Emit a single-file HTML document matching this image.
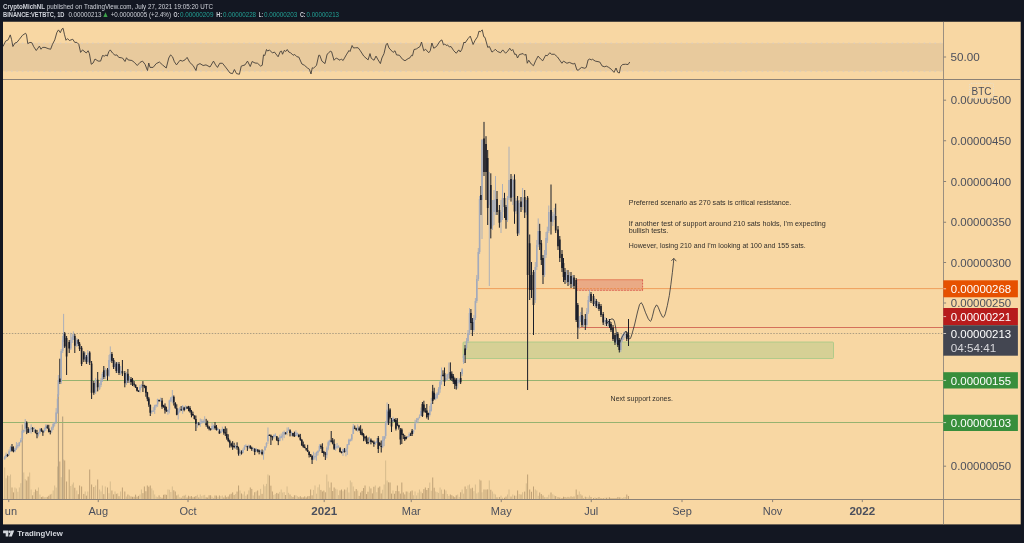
<!DOCTYPE html><html><head><meta charset="utf-8"><title>VETBTC chart</title><style>html,body{margin:0;padding:0;background:#131722;width:1024px;height:543px;overflow:hidden}</style></head><body><svg width="1024" height="543" viewBox="0 0 1024 543" style="display:block;will-change:transform;font-family:'Liberation Sans',sans-serif">
<defs><clipPath id="cc"><rect x="3" y="21.75" width="1017.7" height="502.65"/></clipPath><clipPath id="cp"><rect x="3" y="21.75" width="940.5" height="477.75"/></clipPath></defs>
<rect width="1024" height="543" fill="#131722"/>
<rect x="3" y="21.75" width="1017.7" height="502.65" fill="#f8d7a3"/>
<g clip-path="url(#cc)">
<rect x="3" y="43.2" width="940.5" height="28" fill="#e8ca9d"/>
<path d="M3 43.2H943.5M3 71.2H943.5" stroke="#d9cdc0" stroke-width="1" stroke-dasharray="1.7 3.7" stroke-dashoffset="2.8" fill="none"/>
<path d="M3 46.5 L5.6 41.1 L8.1 39.9 L10.25 34.9 L11.5 39.25 L12.9 46.5 L15 43 L16.9 42.4 L19.4 39.25 L22.5 35.25 L25.6 33.25 L26.5 34.9 L27.75 43.6 L30 42.4 L31.9 42.75 L33.75 46.75 L36.25 50.5 L39.4 46.1 L41 49.25 L42.5 47.4 L45 47.4 L48.1 48.6 L50.6 49.25 L52.5 44.25 L54.75 39.9 L56.9 32.4 L58.5 29.9 L60.3 32.7 L61.9 29 L63.1 28.25 L64.4 34.25 L66 40.25 L67.5 38.6 L69.4 40.5 L72.75 39.25 L74.75 42.4 L76.9 42.4 L78.75 44.25 L80.6 52.4 L82.5 49.9 L86.25 53 L88.1 50.75 L89.4 53.6 L91.25 64.25 L93.1 63 L95 59 L98.1 61.1 L100.6 61.1 L102.5 55.5 L104.4 56.1 L106 54.9 L107.25 56.1 L108.75 51.75 L110.25 49.9 L112.5 53 L115 55.25 L116.9 54.9 L118.75 57.4 L121.25 57.75 L122.5 58 L125 61.5 L126.5 57.75 L128.1 59.9 L131.9 60.5 L134.4 62.4 L137.25 65.5 L140 62.4 L142.5 61.1 L145 64.25 L147.5 70.5 L148.75 63 L150 67.4 L153.1 67.4 L156.25 63.6 L159.4 62 L162.5 64.9 L166.25 68 L168.75 58 L170.6 54.9 L172.5 56.75 L174.4 61.75 L176.5 64.9 L180 60.25 L182.5 61.1 L185 59.9 L187.1 57.4 L189.75 62.4 L193.1 65.5 L196 70.5 L197.25 64.9 L200 63.6 L203.1 65.5 L206 64.9 L210 67 L213.5 61.1 L215.6 64.9 L217.5 67.4 L219.75 63.25 L222.5 63.25 L226.25 68 L230 73 L232.5 73.6 L234.4 69.5 L236.5 73.6 L239.4 74.25 L241.25 66.1 L245 64.9 L247.5 61.1 L250.25 66.5 L252.1 61.5 L255 63 L257.5 63.25 L260.6 66.1 L262.25 65.25 L263.5 54.9 L264.75 55.5 L266.5 49.5 L267.75 51.1 L269.4 49.9 L272.5 53 L274.4 52 L278.1 56.75 L280.25 51.5 L281.5 51.1 L282.5 54.25 L284.4 50.25 L285.6 51.5 L287.25 49.5 L288.75 52 L290.6 52.75 L293.1 55.25 L294.75 54.5 L296.9 56.75 L298.75 57 L301.9 64 L304.4 65.25 L307.5 68 L309.4 69.25 L311 74 L312.25 67.75 L313.5 68.25 L316.5 65.25 L318.75 55.25 L319.75 55.25 L321.9 61.1 L325 63.6 L327.1 54.25 L328.1 53.6 L330.25 51.1 L331.6 51.75 L334 60.25 L336.25 58 L340 60.25 L341.25 59 L343.1 60.5 L346.25 54.9 L349 50.5 L350 51.5 L352.1 45.5 L353.5 48 L355.6 47.75 L358.1 47.75 L360 50.25 L363.75 56.1 L368.1 59.9 L370 53.6 L371.25 58.25 L374 60.25 L376 56.1 L378.1 59.9 L380.4 63.6 L381.9 58 L384 53.6 L386 44.9 L387.25 43.25 L389 48 L393.1 52.4 L395 50.75 L396.5 54.9 L399.4 55.25 L402.5 59.25 L405 60.75 L408.1 58.6 L410 57.75 L411.5 55.25 L412.5 55.75 L414 49.5 L416.25 49 L420 46.5 L421.5 42 L423.75 50.75 L425.6 49.25 L428.75 52.75 L430.25 50.75 L431.9 43 L433.75 48.25 L436.5 46.5 L440 41.1 L441.9 39.9 L443.5 44.9 L444.75 44 L446.25 45.5 L447.5 44.9 L449.4 47 L451 46.5 L453.75 50.75 L456.25 53.25 L458.75 49.9 L460.25 52 L461.9 49.25 L464 42 L465 43 L468.1 38.6 L470.25 36.1 L473.1 44.5 L475 40.5 L477.5 36.75 L479 31.1 L480.25 31.75 L482.25 29.9 L483.75 36.75 L485 37.4 L487.75 47.4 L489.4 46.5 L491.9 52 L493.1 51.5 L495.25 49.25 L497.5 51.5 L500.6 52.75 L502.75 49.9 L505.6 53.25 L507.75 51.1 L509.75 48.25 L511.5 50.75 L512.75 49.5 L514.75 54.5 L516 54 L517.5 58 L519.4 54.5 L523.1 53.6 L524.75 55.25 L526 54.25 L527.25 63.25 L528.75 60.25 L531.25 64 L533.5 65.75 L535.6 60.75 L538.1 56.1 L540.6 59 L542.75 60.75 L545.6 55.25 L547.25 55.75 L549.75 52.75 L551.5 54.25 L554.4 54.25 L557.5 57 L561.9 63.25 L563.5 61.1 L566.9 63.25 L569.4 62.4 L573.1 64 L574.75 63.25 L576.9 69.9 L578.1 70.25 L581.5 67.4 L584.75 68.25 L586.25 67.4 L588.1 59.9 L589.75 59 L591.25 59.9 L592.5 59.25 L595.25 61.1 L599.75 62 L602.25 66.1 L604.75 66.75 L606.25 66.1 L608.75 67.4 L611.25 69.25 L614 72.4 L616 68 L617.75 72.4 L619.4 73 L620.6 66.75 L622.5 64.5 L625.6 64.25 L628.1 64.5 L629.75 62" stroke="#45403a" stroke-width="0.9" fill="none" stroke-linejoin="round"/>
<path d="M4.65 499.5V467.5M6.12 499.5V478.35M9.06 499.5V476.08M10.53 499.5V474.5M14.94 499.5V487.5M16.42 499.5V488.54M17.89 499.5V491.8M19.36 499.5V487.5M20.83 499.5V483.23M23.77 499.5V472.5M25.24 499.5V479.23M29.65 499.5V472.5M31.13 499.5V489.5M34.07 499.5V492.13M38.48 499.5V487.5M39.95 499.5V494.5M44.36 499.5V497.29M45.84 499.5V497.09M51.72 499.5V493.86M53.19 499.5V490.5M54.66 499.5V485.5M56.13 499.5V487.56M57.6 499.5V466.5M61.2 499.5V477.15M63.6 499.5V459.5M70.8 499.5V485.99M72.3 499.5V484.5M73.4 499.5V482.5M76.8 499.5V490.5M85.2 499.5V491.5M87.8 499.5V491.5M95.6 499.5V485.5M99.6 499.5V489.5M101 499.5V491.5M102.4 499.5V485.5M105.3 499.5V486.5M109 499.5V493.26M110.3 499.5V481.5M115 499.5V491.5M117.7 499.5V493.38M120.6 499.5V491.5M126.4 499.5V496.49M129.5 499.5V495.49M139.98 499.5V494.5M141.45 499.5V489.5M151.75 499.5V488.44M153.22 499.5V490.5M154.69 499.5V494.5M156.16 499.5V496.57M157.63 499.5V497.11M160.57 499.5V497.09M167.93 499.5V489.5M169.4 499.5V489.74M170.87 499.5V492.04M172.34 499.5V486.5M178.23 499.5V494.5M179.7 499.5V497.22M182.64 499.5V495.96M185.58 499.5V494.79M197.35 499.5V494.74M200.29 499.5V494.5M201.76 499.5V496.23M203.23 499.5V495.32M204.7 499.5V494.91M212.06 499.5V496.71M213.53 499.5V497.92M217.94 499.5V496.97M220.88 499.5V496.19M222.36 499.5V495.52M235.59 499.5V493.95M240.01 499.5V490.5M242.95 499.5V494.46M244.42 499.5V491.5M245.89 499.5V495.75M248.83 499.5V490.41M253.25 499.5V495.47M256.19 499.5V491.48M260.6 499.5V488.88M263.54 499.5V484.5M265.01 499.5V486.26M266.49 499.5V483.86M267.96 499.5V474.5M273.84 499.5V494.93M275.31 499.5V494.1M279.72 499.5V491.95M281.2 499.5V489.5M282.67 499.5V492.56M284.14 499.5V492.15M287.08 499.5V486.5M288.55 499.5V492.83M291.49 499.5V496.16M295.91 499.5V495.22M297.38 499.5V496.26M313.56 499.5V489.91M315.03 499.5V485.5M316.5 499.5V493.7M317.97 499.5V487.31M319.44 499.5V484.5M326.8 499.5V474.5M328.27 499.5V481.5M329.74 499.5V487.55M335.62 499.5V488.78M337.09 499.5V489.5M338.56 499.5V495.11M342.98 499.5V491.24M345.92 499.5V489.74M347.39 499.5V487.5M348.86 499.5V492.49M350.33 499.5V480.5M351.8 499.5V482.31M353.27 499.5V486.5M357.69 499.5V490.7M369.46 499.5V486.5M375.34 499.5V485.5M376.81 499.5V492.2M382.69 499.5V489.79M384.17 499.5V484.5M385.64 499.5V460.5M387.11 499.5V480.5M392.99 499.5V490.5M407.7 499.5V491.58M409.17 499.5V492.78M413.59 499.5V495.3M415.06 499.5V491.47M416.53 499.5V495.45M418 499.5V492.74M419.47 499.5V489.5M420.94 499.5V491.62M429.77 499.5V482.62M431.24 499.5V490.83M435.65 499.5V491.5M437.12 499.5V492.14M438.59 499.5V492.91M440.06 499.5V487.5M441.53 499.5V489.61M445.95 499.5V490.5M447.42 499.5V494M448.89 499.5V495.93M457.72 499.5V494.5M459.19 499.5V496.95M462.13 499.5V489.5M463.6 499.5V493.67M466.5 499.5V489.09M468 499.5V485.45M469.5 499.5V484.5M473.9 499.5V491.2M475.4 499.5V484.5M476.8 499.5V493.44M478.3 499.5V492.39M479.6 499.5V479.5M482 499.5V492.35M489.3 499.5V480.5M492.5 499.5V491.5M494 499.5V493.72M495.5 499.5V494.5M501 499.5V495.63M502.5 499.5V497.68M507.5 499.5V494.5M509 499.5V489.5M512.8 499.5V494.5M516 499.5V495.7M519.2 499.5V494.1M522.6 499.5V492.23M526.3 499.5V483.4M535.3 499.5V489.5M536.8 499.5V490.5M538.2 499.5V495.81M544.5 499.5V497.18M546 499.5V497.21M547.3 499.5V497.19M548.8 499.5V494.78M552.8 499.5V494.32M554.3 499.5V495.5M566.5 499.5V497.52M569.5 499.5V497.41M572.5 499.5V496.92M579.3 499.5V491.5M580.7 499.5V494.13M583.5 499.5V497.99M586.8 499.5V497.04M588.3 499.5V497.48M589.5 499.5V495.5M595 499.5V497.36M597.8 499.5V497.73M605 499.5V497.64M608 499.5V497.58M616.5 499.5V498M620.8 499.5V497.46M622.3 499.5V498M623.8 499.5V497.25M625.2 499.5V497" stroke="#d3b88a" stroke-width="0.9" fill="none"/>
<path d="M7.59 499.5V475.5M12 499.5V487.5M13.47 499.5V492.4M26.71 499.5V480.5M28.18 499.5V476.6M32.6 499.5V495.31M35.54 499.5V489.5M37.01 499.5V490.96M41.42 499.5V497.04M42.89 499.5V496.55M47.31 499.5V496.92M48.78 499.5V495.8M50.25 499.5V494.5M59.8 499.5V461.5M64.7 499.5V460.5M66.6 499.5V481.5M69.2 499.5V469.5M74.8 499.5V487.74M78.3 499.5V494.25M79.6 499.5V485.5M81.6 499.5V486.5M83.8 499.5V493.97M86.4 499.5V495.64M89.7 499.5V469.5M91.6 499.5V484.5M93.8 499.5V487.02M97.7 499.5V479.5M103.8 499.5V494.18M107.5 499.5V487.5M111.9 499.5V490.5M113.6 499.5V494.36M116.3 499.5V493.84M119 499.5V496.23M122.4 499.5V487.5M124.8 499.5V491.5M127.9 499.5V494.5M131 499.5V496.42M132.5 499.5V496.83M134.1 499.5V496.75M135.57 499.5V494.65M137.04 499.5V496.73M138.51 499.5V495.91M142.92 499.5V493.14M144.39 499.5V486.5M145.86 499.5V491.25M147.33 499.5V485.5M148.81 499.5V486.74M150.28 499.5V485.5M159.1 499.5V495.38M162.04 499.5V497.73M163.52 499.5V494.82M164.99 499.5V494.5M166.46 499.5V494.85M173.81 499.5V490.28M175.28 499.5V491.5M176.75 499.5V495.44M181.17 499.5V497.7M184.11 499.5V495.67M187.05 499.5V497.46M188.52 499.5V495.73M189.99 499.5V496.54M191.46 499.5V496.11M192.94 499.5V497.28M194.41 499.5V496.83M195.88 499.5V496.06M198.82 499.5V497.4M206.17 499.5V497.31M207.65 499.5V497.56M209.12 499.5V495.27M210.59 499.5V495.27M215 499.5V495.5M216.47 499.5V495.6M219.41 499.5V495.47M223.83 499.5V497.42M225.3 499.5V495.47M226.77 499.5V497.13M228.24 499.5V496.51M229.71 499.5V494.5M231.18 499.5V493.8M232.65 499.5V492.4M234.12 499.5V494.98M237.07 499.5V491.6M238.54 499.5V485.5M241.48 499.5V493.52M247.36 499.5V494.45M250.3 499.5V487.5M251.78 499.5V488.96M254.72 499.5V492.26M257.66 499.5V490.5M259.13 499.5V495.56M262.07 499.5V493.86M269.43 499.5V475.5M270.9 499.5V485.68M272.37 499.5V491.5M276.78 499.5V492.94M278.25 499.5V493.64M285.61 499.5V495.01M290.02 499.5V494.5M292.96 499.5V496.99M294.43 499.5V495.27M298.85 499.5V497.17M300.32 499.5V496.21M301.79 499.5V497.4M303.26 499.5V497.33M304.73 499.5V496.35M306.2 499.5V497.45M307.67 499.5V496.31M309.14 499.5V496.09M310.62 499.5V489.5M312.09 499.5V495.33M320.91 499.5V489.94M322.38 499.5V491.5M323.85 499.5V490.55M325.33 499.5V492.3M331.21 499.5V482.5M332.68 499.5V491.04M334.15 499.5V487.5M340.04 499.5V490.43M341.51 499.5V489.53M344.45 499.5V489.5M354.75 499.5V491.29M356.22 499.5V489.02M359.16 499.5V495.91M360.63 499.5V492.5M362.1 499.5V490.93M363.57 499.5V488.04M365.04 499.5V485.5M366.51 499.5V494.12M367.98 499.5V491.75M370.93 499.5V488.43M372.4 499.5V493.43M373.87 499.5V486.77M378.28 499.5V487.68M379.75 499.5V486.5M381.22 499.5V493.47M388.58 499.5V482.31M390.05 499.5V482.5M391.52 499.5V493.61M394.46 499.5V493.79M395.93 499.5V491.06M397.4 499.5V485.5M398.88 499.5V491.24M400.35 499.5V493.63M401.82 499.5V482.5M403.29 499.5V492.49M404.76 499.5V494.41M406.23 499.5V491.5M410.64 499.5V491.38M412.11 499.5V490.5M422.41 499.5V493.19M423.88 499.5V489.14M425.35 499.5V487.5M426.82 499.5V489.99M428.3 499.5V487.99M432.71 499.5V477.5M434.18 499.5V487.73M443.01 499.5V493.86M444.48 499.5V489.5M450.36 499.5V494.5M451.83 499.5V495.26M453.3 499.5V496.31M454.77 499.5V497.18M456.25 499.5V495.33M460.66 499.5V492.3M465.1 499.5V486.5M470.9 499.5V488.54M472.4 499.5V487.78M480.9 499.5V480.5M484 499.5V489.5M486 499.5V489.54M487.7 499.5V489.37M490.8 499.5V489.78M497 499.5V497.32M499.4 499.5V497.01M504.5 499.5V497.74M506 499.5V496.6M511 499.5V496.57M514.5 499.5V495.62M517.6 499.5V490.5M521 499.5V494.5M524.7 499.5V491.59M527.6 499.5V474.5M529.7 499.5V489.5M531.5 499.5V491.78M533.5 499.5V486.5M539.7 499.5V492.5M541.3 499.5V494.03M543 499.5V495.5M551 499.5V492.5M555.7 499.5V496.1M558 499.5V497.15M559.8 499.5V497.54M562 499.5V498M563.5 499.5V496.75M565 499.5V497M568 499.5V496.92M571 499.5V496.43M574 499.5V496.5M576.2 499.5V489.5M577.8 499.5V494.79M582 499.5V495.5M585.3 499.5V496.72M591 499.5V497M593.5 499.5V498M596.3 499.5V498M599 499.5V497.1M601 499.5V498M603.2 499.5V498M606.5 499.5V497.8M609.5 499.5V497.3M611 499.5V498M613 499.5V498M615 499.5V498M617.8 499.5V497.18M619.3 499.5V497.35M626.8 499.5V494.5M628.5 499.5V496" stroke="#b89b70" stroke-width="0.9" fill="none"/>
<path d="M22.3 499.5V424.5M58.4 499.5V383.5M62.7 499.5V416.5" stroke="#9a8970" stroke-width="0.8" fill="none"/>
<path d="M3 333.5H943.5" stroke="#ad9e82" stroke-width="1" stroke-dasharray="1.5 1.44" fill="none"/>
<path d="M3 422.5H943.5" stroke="#96b270" stroke-width="1" fill="none"/>
<path d="M61 380.5H943.5" stroke="#96b270" stroke-width="1" fill="none"/>
<path d="M477.5 288.6H943.5" stroke="#ef9f5c" stroke-width="1" fill="none"/>
<path d="M578.5 327.5H943.5" stroke="#d5705a" stroke-width="1" fill="none"/>
<rect x="463" y="342" width="370.5" height="16.5" rx="1" fill="#d6d095" stroke="#a3c885" stroke-width="0.8"/>
<rect x="576.2" y="279.3" width="66.8" height="11.4" fill="#eaaa85"/>
<path d="M576.2 279.8H643" stroke="#e6845e" stroke-width="1" fill="none"/>
<path d="M576.2 290.3H643M642.6 279.8V290.3M576.7 279.8V290.3" stroke="#d9584c" stroke-width="0.9" stroke-dasharray="1.6 1.4" fill="none"/>
<path d="M576.3 288.6H643" stroke="#ec8a4c" stroke-width="0.9" stroke-dasharray="2.2 1.2" fill="none"/>
<path d="M4.65 456.07V459.69M6.12 452.64V457.79M9.06 449.42V455.68M10.53 445.87V451.81M14.94 447.79V452.12M16.42 442.06V450.01M17.89 443.04V448.16M19.36 441.93V446.42M20.83 438.2V442.9M22.3 429.67V440.4M23.77 429.45V432.94M25.24 419V431.64M29.65 428.68V432.53M31.13 424.36V433.62M34.07 427.08V431.8M38.48 431.95V436.51M39.95 428.29V433.76M44.36 427.53V432.48M45.84 424.22V430.85M51.72 426.63V432.87M53.19 422.12V429.95M54.66 421.86V426.49M56.13 408.12V423.85M57.6 394.28V413.72M58.4 375V397M61.2 349V384M62.7 336V353M63.6 313.9V342M70.8 332.8V350M72.3 334V343M73.4 331.4V340M76.8 338V347M85.2 352V361M87.8 350V364M95.6 378V394M99.6 383V390M101 378V387M102.4 372V382M105.3 368V379M109 355V377M110.3 346.4V362M115 361V369M117.7 362V373M120.6 366V375M126.4 372V385M129.5 376V383M139.98 384.83V392.62M141.45 384.09V388.06M151.75 410.55V413.99M153.22 407.12V411.96M154.69 404.8V413.94M156.16 404.44V407.55M157.63 398.67V406.89M160.57 397.61V401.76M167.93 408.95V414.67M169.4 399.65V413.34M170.87 397.26V402.07M172.34 390V403.43M178.23 408.42V419.5M179.7 407.13V412.73M182.64 405.16V413.77M185.58 405.35V409.58M197.35 422.28V427.78M200.29 418.54V426.82M201.76 419.23V423.7M203.23 419.42V423.17M204.7 416.23V423.34M212.06 422.7V430.1M213.53 424.73V429.78M217.94 428.25V431.21M220.88 429.36V433.09M222.36 426.67V431.77M235.59 444.8V449.01M240.01 449.81V456M242.95 448.54V453.33M244.42 445.16V449.8M245.89 444.24V447.11M248.83 444.58V449.02M253.25 447.73V451.36M256.19 447.86V452.12M260.6 450.25V453.38M263.54 450.32V459.68M265.01 446.08V450.4M266.49 442.17V447.67M267.96 427.5V443.81M273.84 434.27V438.92M275.31 433.3V437.25M279.72 434.66V441.36M281.2 433.5V438.35M282.67 431.79V440.43M284.14 430.59V438.11M287.08 427.5V435.29M288.55 427.23V430.83M291.49 431.64V436.18M295.91 430.27V435.98M297.38 432.55V436.54M313.56 451.72V460.15M315.03 453.05V459.86M316.5 451.63V460.67M317.97 450.71V455.4M319.44 444.21V451.47M326.8 446.51V458.19M328.27 440.68V450.33M329.74 439.72V445.53M335.62 444.08V450.74M337.09 442.97V448.67M338.56 445.28V447.76M342.98 448.75V455.93M345.92 447.8V456.35M347.39 444.29V454.87M348.86 438.7V445.15M350.33 438.64V441.59M351.8 434.14V441.13M353.27 424V434.03M357.69 424.48V431.87M369.46 436.65V442.47M375.34 441.57V445.02M376.81 438.07V443.04M382.69 436.16V448.06M384.17 436.09V446.18M385.64 421.05V438.68M387.11 402.5V425.06M392.99 416.65V421.76M407.7 435.98V437.76M409.17 432.38V437.05M413.59 429.96V433.8M415.06 419.78V429.97M416.53 418.09V423.28M418 417.67V423.19M419.47 414.46V418.43M420.94 407.54V416.2M429.77 405.78V416.47M431.24 397.91V411.6M435.65 393.74V400.23M437.12 392.09V398.94M438.59 387.12V394.81M440.06 380.47V392.75M441.53 367.5V384.65M445.95 374.42V380.47M447.42 373.71V380.39M448.89 362.5V378.95M457.72 377.87V388.46M459.19 378.81V383.67M462.13 368.11V376.09M463.6 354V364M466.5 338V350M468 330V343M469.5 308V335M473.9 315V332M475.4 298V320M476.8 275V303M478.3 248V281M479.6 196V254M482 139.5V239M489.3 172V286M492.5 200V230M494 190V225M495.5 176V215M501 200V233M502.5 184V220M507.5 196V222M509 146.7V200M512.8 176V205M516 198V214M519.2 200V235M522.6 188V210M526.3 205V215M535.3 262V303M536.8 240V270M538.2 218.4V247M544.5 250V277M546 232V258M547.3 226.7V243M548.8 205.5V233M552.8 212V226M554.3 208V220M566.5 270V283M569.5 272V285M572.5 275V287M579.3 316V329M580.7 312V322M583.5 316V327M586.8 308V327M588.3 296V314M589.5 290V302M595 298V307M597.8 301V309M605 317V326M608 319V327M616.5 332V344M620.8 338V352M622.3 334V342M623.8 332V340M625.2 331V338" stroke="#a3aabb" stroke-width="0.9" fill="none"/>
<path d="M7.59 453.91V456.81M12 444.03V451.62M13.47 446.35V452.34M26.71 421.34V434.12M28.18 427.16V432.93M32.6 427.04V432.02M35.54 429.48V433.42M37.01 429.92V438.26M41.42 428.18V431.83M42.89 430.09V435.89M47.31 424.81V428.85M48.78 424.79V432.43M50.25 430.43V434.41M59.8 358.7V384M64.7 332V348M66.6 336V375M69.2 340V353M74.8 334V353M78.3 339V346M79.6 342V351M81.6 346V366M83.8 351V362M86.4 355V364M89.7 351.2V365M91.6 361V399M93.8 381V394.8M97.7 372V391.4M103.8 366V379M107.5 368V380.5M111.9 352V363M113.6 358V369M116.3 362V373M119 362V375M122.4 360V376M124.8 371V387.3M127.9 369V383M131 377V385M132.5 378V386M134.1 381.02V386.59M135.57 384.47V387.92M137.04 386.97V391.43M138.51 390.45V391.98M142.92 381.1V391.99M144.39 384.82V388.17M145.86 385.73V396.75M147.33 391.87V401.23M148.81 396.92V406.84M150.28 404.43V416M159.1 399.61V401.54M162.04 397.93V408.85M163.52 404.84V407.69M164.99 403.4V413.57M166.46 406.72V411.78M173.81 395.44V405.55M175.28 402.18V408.83M176.75 404.29V415.29M181.17 406.04V410.95M184.11 406.81V411.28M187.05 406.17V408.96M188.52 405.85V411.29M189.99 406.07V412.73M191.46 409.93V417.34M192.94 411.69V415.73M194.41 415.44V419.48M195.88 415.56V431M198.82 422.01V425.37M206.17 418.86V426.7M207.65 420.62V428.68M209.12 425.93V430.39M210.59 428.43V430.54M215 422.07V429.48M216.47 425.01V430.54M219.41 429.32V433.8M223.83 428.81V434.69M225.3 426.37V436.01M226.77 428.34V439.73M228.24 434.25V442.05M229.71 439.64V447.61M231.18 442.66V447.36M232.65 441.16V449.87M234.12 442.78V448.31M237.07 442.32V449.73M238.54 446.65V455.67M241.48 450.4V454.56M247.36 445.81V450.91M250.3 445.34V449.04M251.78 446.66V450.87M254.72 448.1V455.06M257.66 449.41V452.39M259.13 449.64V454.33M262.07 449.49V455.2M269.43 434.58V436M270.9 434.52V445M272.37 435.99V440.41M276.78 436.21V440.83M278.25 437.58V445.14M285.61 432.12V434.53M290.02 429.25V436.38M292.96 432.93V436.51M294.43 431.67V436.8M298.85 433.91V437.47M300.32 433.88V440.8M301.79 439.09V445.66M303.26 441.54V447.81M304.73 444.31V448.21M306.2 448.02V450.74M307.67 444.8V452.08M309.14 451.38V457.48M310.62 454.13V457.01M312.09 455.36V464M320.91 444.41V449.01M322.38 443.27V452.99M323.85 450.87V456.72M325.33 451.95V460M331.21 431V442.3M332.68 438V444.39M334.15 439.29V449.98M340.04 447.2V452.45M341.51 451.39V453.35M344.45 448.06V452.57M354.75 425.52V429.16M356.22 427.81V430.8M359.16 426.52V430.51M360.63 425.23V434.89M362.1 428.78V435.61M363.57 433.11V441.18M365.04 436.14V440.66M366.51 435.64V443.88M367.98 437.41V444.24M370.93 438.45V444.35M372.4 440.54V442.53M373.87 440.6V446.8M378.28 436V453M379.75 441.97V445.81M381.22 440.51V452.5M388.58 404V425M390.05 408.23V419.41M391.52 418V432M394.46 418.8V421.94M395.93 418V430.5M397.4 418.2V426.16M398.88 424.81V429.63M400.35 428V444.7M401.82 428.24V444M403.29 433.56V439.01M404.76 435V441M406.23 436.62V439.38M410.64 432.77V435.78M412.11 429V436M422.41 402V417M423.88 400.75V412.43M425.35 407.93V412.87M426.82 404V418.5M428.3 412.7V419.84M432.71 384.9V404M434.18 387.75V399.45M443.01 370.3V376.59M444.48 367.5V386M450.36 362.4V380M451.83 371.34V380.92M453.3 374V384M454.77 377.58V389M456.25 378V389.6M460.66 372V384M465.1 345V363M470.9 309V330M472.4 318V336M480.9 186V215M484 121.9V176M486 136.2V200M487.7 150V225M490.8 173.3V238.4M497 191V215M499.4 205V227.7M504.5 192.8V218M506 205V228.7M511 174V201.6M514.5 174.3V223.8M517.6 196V236M521 197V212M524.7 190V218M527.6 196V390M529.7 234.5V300M531.5 262V298M533.5 270V335M539.7 223.8V250M541.3 240V265M543 255V284M551 184.5V234.5M555.7 203.6V233M558 226V250M559.8 236V262M562 250V272M563.5 258V282M565 268V284M568 270V286M571 272V288M574 275V289M576.2 278V322M577.8 303V339M582 307.5V327M585.3 314V330M591 292V303M593.5 294V306M596.3 299V308M599 302V311M601 304V317M603.2 312V325M606.5 318V326M609.5 319V328M611 322V332M613 325V341M615 333V345M617.8 332V347M619.3 338V352.5M626.8 332V341M628.5 319V346" stroke="#1b1e29" stroke-width="1" fill="none"/>
<path d="M4.65 457.2V459.2M6.12 454.69V457.33M9.06 451.37V454.43M10.53 446.88V451.29M14.94 448.47V451.25M16.42 445.84V448.79M17.89 444.97V446.17M19.36 442.22V445.52M20.83 439.92V442.06M22.3 430.91V439.19M23.77 429.97V431.38M25.24 422.25V429.12M29.65 429.3V432.49M31.13 427.62V429.59M34.07 428.25V429.45M38.48 432.42V434.39M39.95 428.7V432.46M44.36 429.63V431.31M45.84 425.61V428.99M51.72 427.54V430.58M53.19 424.06V427.87M54.66 422.84V424.04M56.13 412.56V422.28M57.6 398.68V413.07M58.4 380V395M61.2 351V382M62.7 340V351M63.6 333.5V340M70.8 340V348.5M72.3 337V340M73.4 335.5V337M76.8 340V345.8M85.2 356V359.4M87.8 353V362M95.6 380V392M99.6 385V388.7M101 380.5V385M102.4 374V380.5M105.3 370V377M109 360V375.7M110.3 354V360M115 363.5V366.9M117.7 364V371M120.6 370V373M126.4 374V383M129.5 379V380.5M139.98 386.97V390.46M141.45 385.44V386.86M151.75 410.69V411.89M153.22 410.4V411.6M154.69 405.48V409.98M156.16 404.85V406.05M157.63 399.06V404.26M160.57 399.92V401.12M167.93 409.83V412.1M169.4 400.39V409.75M170.87 397.45V401.59M172.34 396.23V397.85M178.23 411.27V414.04M179.7 408.84V411.61M182.64 406.01V409.69M185.58 407.18V409.41M197.35 422.96V424.16M200.29 422.27V424M201.76 421.26V422.46M203.23 421.12V422.32M204.7 421.42V422.62M212.06 426.07V429.08M213.53 425.41V426.62M217.94 428.78V429.98M220.88 431.18V433.02M222.36 428.91V430.98M235.59 445.19V446.39M240.01 451.37V452.57M242.95 449.94V452.87M244.42 446.9V449.69M245.89 445.62V447.11M248.83 445.51V446.71M253.25 447.87V449.07M256.19 449.01V451.03M260.6 450.57V451.77M263.54 450.79V454.08M265.01 446.56V450.2M266.49 442.93V445.75M267.96 435.43V441.24M273.84 434.94V437.01M275.31 434.8V436M279.72 437.23V440.9M281.2 436.08V437.96M282.67 435.21V436.41M284.14 431.98V435.02M287.08 430.89V432.88M288.55 429.45V430.65M291.49 431.69V432.89M295.91 432.42V435.89M297.38 432.99V434.19M313.56 457.09V459.33M315.03 456.07V457.27M316.5 452.18V456.01M317.97 450.76V452.84M319.44 445.99V450.9M326.8 448.09V455.25M328.27 442.17V448.55M329.74 440.41V442.18M335.62 446.95V448.15M337.09 446.37V447.57M338.56 446.4V447.6M342.98 448.95V452.72M345.92 449.06V451.73M347.39 444.32V448.72M348.86 439.85V444.78M350.33 439.53V441.06M351.8 434.26V439.43M353.27 426.4V434.02M357.69 427.48V428.68M369.46 439.95V442.01M375.34 441.95V443.93M376.81 441.2V442.4M382.69 439.76V446.47M384.17 436.19V440.59M385.64 422.86V436.12M387.11 409.87V423.02M392.99 418.14V421.71M407.7 436V437.2M409.17 434.23V435.66M413.59 430.51V431.81M415.06 423.46V429.33M416.53 420.19V422.93M418 418.37V420.1M419.47 416.68V418M420.94 411.02V415.63M429.77 409.71V414.88M431.24 403.36V410.74M435.65 397.36V398.56M437.12 393.62V397.72M438.59 389.01V394.63M440.06 381.66V389.27M441.53 374.83V381.92M445.95 377.88V380.44M447.42 374.24V377.73M448.89 373.49V374.69M457.72 381.72V382.92M459.19 380.31V381.89M462.13 369.18V373.9M463.6 356V362M466.5 341V348M468 333V341M469.5 313V333M473.9 318V330M475.4 301V318M476.8 279V301M478.3 252V279M479.6 199V252M482 139.5V200M489.3 190V205M492.5 212V226M494 200V212M495.5 199V200M501 212V222M502.5 198V212M507.5 198V220M509 180V198M512.8 180V197M516 201V211M519.2 203V233M522.6 198V207M526.3 200V212M535.3 267V300M536.8 245V267M538.2 231V245M544.5 255V275M546 238V255M547.3 231.6V240.4M548.8 212V231M552.8 216V222M554.3 214V216M566.5 274V280M569.5 277V282M572.5 278V284M579.3 320V327M580.7 316V320M583.5 320V325M586.8 312V325M588.3 300V312M589.5 294V300M595 301V304M597.8 304V306M605 320V322M608 321V324M616.5 336V342M620.8 340V350M622.3 336V340M623.8 335V336M625.2 334V335" stroke="#a3aabb" stroke-width="1.6" fill="none"/>
<path d="M7.59 454.84V456.04M12 446.76V450.68M13.47 449.99V451.19M26.71 422.8V428.14M28.18 428.71V432.87M32.6 428.03V429.23M35.54 429.88V432.75M37.01 432.95V434.18M41.42 428.75V431.32M42.89 431.24V432.44M47.31 426.6V427.8M48.78 428.47V431.63M50.25 430.69V431.89M59.8 378.5V382M64.7 333.5V346.4M66.6 338V356.6M69.2 342V348.5M74.8 336V345.8M78.3 340V343.7M79.6 343.7V349M81.6 347.8V364M83.8 352.6V359.4M86.4 356.7V362M89.7 352.6V362.8M91.6 363.5V392.8M93.8 383V392.8M97.7 379.8V387.3M103.8 370.3V377M107.5 369.6V375.7M111.9 354V360.7M113.6 360V366.9M116.3 363.5V371M119 364V373M122.4 370.9V373.6M124.8 373V383.2M127.9 373.7V380.5M131 379V382M132.5 379.8V383.2M134.1 383.5V384.7M135.57 384.78V387.58M137.04 387.36V390.82M138.51 390.45V391.65M142.92 385.14V386.34M144.39 385.35V386.55M145.86 386.11V392.64M147.33 392.28V398.66M148.81 398.58V404.64M150.28 404.89V412.68M159.1 400.03V401.23M162.04 400.46V406.83M163.52 405.05V406.25M164.99 406.35V410.15M166.46 409.9V411.37M173.81 396.8V402.21M175.28 402.73V407.82M176.75 408.17V414.86M181.17 409.17V410.37M184.11 407.51V409.94M187.05 407.19V408.39M188.52 406.95V408.48M189.99 407.97V411.43M191.46 411.21V414.71M192.94 414.05V415.46M194.41 415.61V419.07M195.88 419.05V423.78M198.82 423.56V424.76M206.17 423.13V425.11M207.65 425.52V426.76M209.12 426.94V428.67M210.59 428.48V429.68M215 425.64V427.97M216.47 427.13V429.89M219.41 431.32V433.6M223.83 429.03V432.81M225.3 432.23V433.5M226.77 434.05V438.37M228.24 437.95V441.1M229.71 440.79V443.33M231.18 443.38V445.82M232.65 445.14V446.78M234.12 445.92V447.12M237.07 446.07V447.56M238.54 448.43V453.75M241.48 452.36V453.56M247.36 446.15V447.35M250.3 445.75V448.06M251.78 447.77V448.97M254.72 448.94V452.05M257.66 449.5V450.7M259.13 450.43V451.91M262.07 451.84V453.88M269.43 434.79V435.99M270.9 435.47V436.67M272.37 436.3V437.5M276.78 436.33V440.32M278.25 439.95V441.15M285.61 432.67V433.87M290.02 430.33V432.89M292.96 432.94V435.64M294.43 435.21V436.41M298.85 435.01V436.89M300.32 437.51V439.84M301.79 439.87V445.6M303.26 444.81V446.64M304.73 446.76V447.96M306.2 448.25V449.59M307.67 449.91V451.38M309.14 451.64V455.03M310.62 454.31V455.51M312.09 455.87V459.76M320.91 445.97V447.31M322.38 446.93V452.95M323.85 451.81V453.61M325.33 453.43V454.79M331.21 440.44V441.64M332.68 440.62V443.61M334.15 443.69V448.73M340.04 448.23V451.94M341.51 451.74V452.94M344.45 450.73V451.93M354.75 427.63V428.83M356.22 428.48V429.68M359.16 428.23V430.48M360.63 430.37V433.07M362.1 432.41V435.06M363.57 434.29V436.65M365.04 436.63V438.47M366.51 439.32V442.05M367.98 442.05V443.25M370.93 439.71V442.1M372.4 441.13V442.33M373.87 442.16V444.03M378.28 438V449M379.75 442.99V445.55M381.22 445.9V447.1M388.58 411.6V423.3M390.05 409.44V417.46M391.52 420V426.5M394.46 419.16V421.26M395.93 420V428.7M397.4 423.41V424.75M398.88 425.19V427.38M400.35 429.7V439.4M401.82 429.61V434.64M403.29 434.12V435.32M404.76 437V439.4M406.23 436.7V438.7M410.64 434.55V435.75M412.11 430.8V434M422.41 404V415.9M423.88 404.4V410.82M425.35 410.87V412.07M426.82 410.5V417M428.3 412.88V414.94M432.71 391.3V401M434.18 392.8V399.24M443.01 374.83V376.03M444.48 373V381.7M450.36 372V378.5M451.83 373.85V378.34M453.3 376.3V381.7M454.77 379.74V384.16M456.25 379.5V386M460.66 378V382.3M465.1 348.5V355M470.9 313V323M472.4 322V330M480.9 195V200M484 138.4V172M486 144V172M487.7 158V208M490.8 185V228.7M497 199V212M499.4 210V222.8M504.5 198V207M506 207V220M511 179V197.7M514.5 179.6V211.4M517.6 200.6V233.5M521 201.6V207M524.7 197V212.4M527.6 197.7V275M529.7 243.3V290M531.5 275V290M533.5 272V305M539.7 231V244.3M541.3 243.3V260M543 258V275M551 210V221.8M555.7 216V230.6M558 229.6V246.3M559.8 239.4V258M562 254V268M563.5 263V277M565 272V280M568 275V282M571 276V284M574 277.5V286M576.2 280V320M577.8 305V327.5M582 315V325M585.3 319V325M591 294V301M593.5 296V304M596.3 301V306M599 304V309M601 306V315M603.2 314V322.5M606.5 320V324M609.5 321V326M611 324V330M613 327.5V339M615 335V342.5M617.8 334V345M619.3 340V350M626.8 334V339M628.5 335.3V337.3" stroke="#1b1e29" stroke-width="1.65" fill="none"/>
<path d="M607 323 L611 319 L613 319 L614.3 321 L615.6 327 L617 339 L618.2 344 L619 344.5 L620 342 L622 337 L624.5 333 L626 331 L627.4 333 L628.5 337 L629.4 339 L630.4 338.5 L631.4 336 L634.5 325 L637.5 312 L639.5 304.7 L641 302.7 L642 303.5 L643 305.7 L645.6 312.8 L648.3 318.9 L650.3 321.3 L651.2 320.5 L652.3 316.8 L654.3 308.7 L656.4 305 L657.3 305.5 L658.4 307.7 L660.4 312.8 L662.4 316.8 L663.2 317.4 L664.2 316.5 L665.3 313.8 L667.3 305.7 L669.3 295.6 L670.9 284.4 L672.4 272.3 L673.4 263.2 L673.8 258.5" stroke="#22252e" stroke-width="0.75" fill="none" stroke-linejoin="round"/>
<path d="M671.4 260.8L673.8 258.4L676.3 261.2" stroke="#22252e" stroke-width="0.75" fill="none"/>
<text x="628.8" y="204.82" font-size="7" fill="#322f2b" font-weight="400" text-anchor="start" textLength="162.5" lengthAdjust="spacingAndGlyphs">Preferred scenario as 270 sats is critical resistance.</text>
<text x="628.8" y="226.12" font-size="7" fill="#322f2b" font-weight="400" text-anchor="start" textLength="197" lengthAdjust="spacingAndGlyphs">If another test of support around 210 sats holds, I'm expecting</text>
<text x="628.8" y="233.22" font-size="7" fill="#322f2b" font-weight="400" text-anchor="start" textLength="39.5" lengthAdjust="spacingAndGlyphs">bullish tests.</text>
<text x="628.8" y="247.52" font-size="7" fill="#322f2b" font-weight="400" text-anchor="start" textLength="177" lengthAdjust="spacingAndGlyphs">However, losing 210 and I'm looking at 100 and 155 sats.</text>
<text x="610.6" y="400.52" font-size="7" fill="#322f2b" font-weight="400" text-anchor="start" textLength="62.4" lengthAdjust="spacingAndGlyphs">Next support zones.</text>
<path d="M943.5 21.75V524.4" stroke="#9b8f80" stroke-width="1" fill="none"/>
<path d="M3 79.5H1020.7M3 499.5H1020.7" stroke="#8b8176" stroke-width="1" fill="none"/>
<path d="M8.75 499.5v2.6M98.25 499.5v2.6M188 499.5v2.6M324.2 499.5v2.6M411.25 499.5v2.6M501.25 499.5v2.6M591.25 499.5v2.6M682 499.5v2.6M772.6 499.5v2.6M862.3 499.5v2.6" stroke="#8b8176" stroke-width="1" fill="none"/>
<text x="98.25" y="514.56" font-size="11" fill="#4b4f5c" font-weight="400" text-anchor="middle">Aug</text>
<text x="188" y="514.56" font-size="11" fill="#4b4f5c" font-weight="400" text-anchor="middle">Oct</text>
<text x="324.2" y="514.78" font-size="11.6" fill="#4b4f5c" font-weight="700" text-anchor="middle">2021</text>
<text x="411.25" y="514.56" font-size="11" fill="#4b4f5c" font-weight="400" text-anchor="middle">Mar</text>
<text x="501.25" y="514.56" font-size="11" fill="#4b4f5c" font-weight="400" text-anchor="middle">May</text>
<text x="591.25" y="514.56" font-size="11" fill="#4b4f5c" font-weight="400" text-anchor="middle">Jul</text>
<text x="682" y="514.56" font-size="11" fill="#4b4f5c" font-weight="400" text-anchor="middle">Sep</text>
<text x="772.6" y="514.56" font-size="11" fill="#4b4f5c" font-weight="400" text-anchor="middle">Nov</text>
<text x="862.3" y="514.78" font-size="11.6" fill="#4b4f5c" font-weight="700" text-anchor="middle">2022</text>
<text x="4.8" y="514.56" font-size="11" fill="#4b4f5c" font-weight="400" text-anchor="start" textLength="12.2" lengthAdjust="spacingAndGlyphs">un</text>
<path d="M943.5 100.2h2.6M943.5 140.75h2.6M943.5 181.5h2.6M943.5 222.25h2.6M943.5 262.5h2.6M943.5 303h2.6M943.5 466.2h2.6M943.5 57h2.6" stroke="#8b8176" stroke-width="1" fill="none"/>
<text x="950.8" y="104.34" font-size="11.5" fill="#4b4f5c" font-weight="400" text-anchor="start" textLength="60.4" lengthAdjust="spacingAndGlyphs">0.00000500</text>
<text x="950.8" y="144.89" font-size="11.5" fill="#4b4f5c" font-weight="400" text-anchor="start" textLength="60.4" lengthAdjust="spacingAndGlyphs">0.00000450</text>
<text x="950.8" y="185.64" font-size="11.5" fill="#4b4f5c" font-weight="400" text-anchor="start" textLength="60.4" lengthAdjust="spacingAndGlyphs">0.00000400</text>
<text x="950.8" y="226.39" font-size="11.5" fill="#4b4f5c" font-weight="400" text-anchor="start" textLength="60.4" lengthAdjust="spacingAndGlyphs">0.00000350</text>
<text x="950.8" y="266.64" font-size="11.5" fill="#4b4f5c" font-weight="400" text-anchor="start" textLength="60.4" lengthAdjust="spacingAndGlyphs">0.00000300</text>
<text x="950.8" y="307.14" font-size="11.5" fill="#4b4f5c" font-weight="400" text-anchor="start" textLength="60.4" lengthAdjust="spacingAndGlyphs">0.00000250</text>
<text x="950.8" y="470.34" font-size="11.5" fill="#4b4f5c" font-weight="400" text-anchor="start" textLength="60.4" lengthAdjust="spacingAndGlyphs">0.00000050</text>
<text x="950.6" y="61.14" font-size="11.5" fill="#4b4f5c" font-weight="400" text-anchor="start" textLength="29.2" lengthAdjust="spacingAndGlyphs">50.00</text>
<rect x="969.6" y="83.3" width="24" height="15" rx="1.5" fill="#f8d7a3" stroke="#dfe3df" stroke-width="0.7" stroke-dasharray="1.2 1.2"/>
<text x="971.6" y="95.34" font-size="11.5" fill="#4b4f5c" font-weight="400" text-anchor="start" textLength="20" lengthAdjust="spacingAndGlyphs">BTC</text>
<rect x="943.3" y="280.3" width="74.59999999999998" height="17.0" fill="#e65100"/>
<text x="950.8" y="293.04" font-size="11.5" fill="#ffffff" font-weight="400" text-anchor="start" textLength="60.4" lengthAdjust="spacingAndGlyphs">0.00000268</text>
<rect x="943.3" y="308" width="74.59999999999998" height="17.19999999999999" fill="#b71c1c"/>
<text x="950.8" y="320.74" font-size="11.5" fill="#ffffff" font-weight="400" text-anchor="start" textLength="60.4" lengthAdjust="spacingAndGlyphs">0.00000221</text>
<rect x="943.3" y="325.2" width="74.59999999999998" height="30.5" fill="#434651"/>
<text x="950.8" y="338.14" font-size="11.5" fill="#ffffff" font-weight="400" text-anchor="start" textLength="60.4" lengthAdjust="spacingAndGlyphs">0.00000213</text>
<text x="950.8" y="351.74" font-size="11.5" fill="#d8d8dc" font-weight="400" text-anchor="start" textLength="45.4" lengthAdjust="spacingAndGlyphs">04:54:41</text>
<rect x="943.3" y="372.2" width="74.59999999999998" height="16.30000000000001" fill="#388e3c"/>
<text x="950.8" y="384.54" font-size="11.5" fill="#ffffff" font-weight="400" text-anchor="start" textLength="60.4" lengthAdjust="spacingAndGlyphs">0.00000155</text>
<rect x="943.3" y="414.7" width="74.59999999999998" height="16.30000000000001" fill="#388e3c"/>
<text x="950.8" y="427.04" font-size="11.5" fill="#ffffff" font-weight="400" text-anchor="start" textLength="60.4" lengthAdjust="spacingAndGlyphs">0.00000103</text>
<path d="M943.5 288.8h2.6M943.5 316.6h2.6M943.5 333.5h2.6M943.5 380.4h2.6M943.5 422.6h2.6" stroke="#f3e9dc" stroke-width="0.8" fill="none"/>
</g>
<text x="3" y="9.18" font-size="6.6" fill="#cfd2d9" font-weight="700" text-anchor="start" textLength="42" lengthAdjust="spacingAndGlyphs">CryptoMichNL</text>
<text x="46.8" y="9.18" font-size="6.6" fill="#cfd2d9" font-weight="400" text-anchor="start" textLength="166.2" lengthAdjust="spacingAndGlyphs">published on TradingView.com, July 27, 2021 19:05:20 UTC</text>
<text x="3" y="16.98" font-size="6.6" fill="#cfd2d9" font-weight="700" text-anchor="start" textLength="61.5" lengthAdjust="spacingAndGlyphs">BINANCE:VETBTC, 1D</text>
<text x="68.4" y="16.98" font-size="6.6" fill="#cfd2d9" font-weight="400" text-anchor="start" textLength="33.1" lengthAdjust="spacingAndGlyphs">0.00000213</text>
<path d="M103.4 17L105.5 12.2L107.6 17Z" fill="#3da24a"/>
<text x="110.7" y="16.98" font-size="6.6" fill="#cfd2d9" font-weight="400" text-anchor="start" textLength="60.3" lengthAdjust="spacingAndGlyphs">+0.00000005 (+2.4%)</text>
<text x="173.4" y="16.98" font-size="6.6" fill="#cfd2d9" font-weight="700" text-anchor="start" textLength="5.7" lengthAdjust="spacingAndGlyphs">O:</text>
<text x="180" y="16.98" font-size="6.6" fill="#22a094" font-weight="400" text-anchor="start" textLength="33.4" lengthAdjust="spacingAndGlyphs">0.00000209</text>
<text x="216.2" y="16.98" font-size="6.6" fill="#cfd2d9" font-weight="700" text-anchor="start" textLength="6" lengthAdjust="spacingAndGlyphs">H:</text>
<text x="223.1" y="16.98" font-size="6.6" fill="#22a094" font-weight="400" text-anchor="start" textLength="33" lengthAdjust="spacingAndGlyphs">0.00000228</text>
<text x="258.7" y="16.98" font-size="6.6" fill="#cfd2d9" font-weight="700" text-anchor="start" textLength="4.3" lengthAdjust="spacingAndGlyphs">L:</text>
<text x="263.9" y="16.98" font-size="6.6" fill="#22a094" font-weight="400" text-anchor="start" textLength="33.4" lengthAdjust="spacingAndGlyphs">0.00000203</text>
<text x="300" y="16.98" font-size="6.6" fill="#cfd2d9" font-weight="700" text-anchor="start" textLength="5.6" lengthAdjust="spacingAndGlyphs">C:</text>
<text x="306.6" y="16.98" font-size="6.6" fill="#22a094" font-weight="400" text-anchor="start" textLength="32.4" lengthAdjust="spacingAndGlyphs">0.00000213</text>
<g fill="#d4d7de"><path d="M3.1 530.6H8.3V536.4H5.7V533.2H3.1Z"/><circle cx="9.7" cy="531.8" r="1.25"/><path d="M11.3 530.6H14.2L11.8 536.4H8.9Z"/></g>
<text x="17.3" y="536.31" font-size="7.8" fill="#d4d7de" font-weight="700" text-anchor="start" textLength="45.6" lengthAdjust="spacingAndGlyphs">TradingView</text>
</svg></body></html>
